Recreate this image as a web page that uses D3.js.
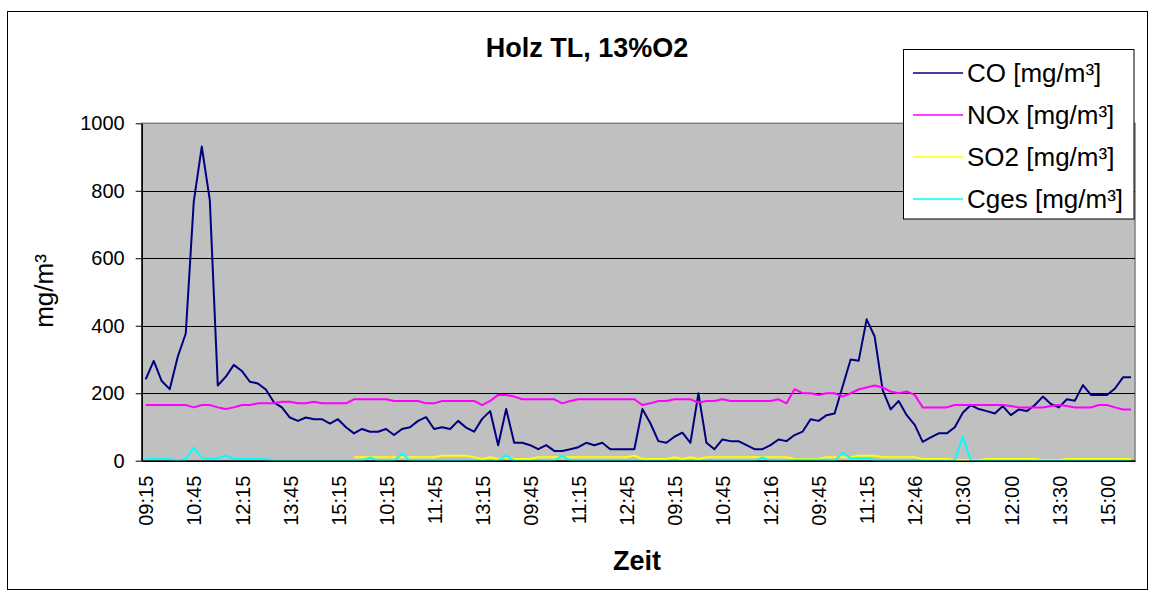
<!DOCTYPE html>
<html>
<head>
<meta charset="utf-8">
<script src="https://cdn.jsdelivr.net/npm/d3@7"></script>
<style>
  body { margin: 0; background: #fff; }
  svg { display: block; font-family: "Liberation Sans", Arial, sans-serif; }
</style>
</head>
<body>
<svg id="chart" width="1155" height="597"></svg>
<script>
// -------------------------------------------------------------------------- //
//                              DATA                                          //
// -------------------------------------------------------------------------- //

// measured values, one per sample (124 samples)
var CO = [241, 296, 236, 212, 308, 377, 768, 931, 773, 223,
          249, 284, 266, 234, 229, 211, 173, 158, 128, 118,
          128, 123, 123, 110, 123,  99,  81,  94,  86,  86,
           94,  76,  94,  99, 118, 129,  94,  99,  94, 118,
           98,  86, 124, 147,  46, 153,  53,  53,  46,  34,
           46,  29,  29,  34,  40,  53,  46,  53,  34,  34,
           34,  34, 153, 111,  58,  53,  71,  83,  53, 200,
           53,  34,  63,  58,  58,  46,  34,  34,  46,  63,
           58,  76,  86, 123, 118, 135, 140, 220, 300, 296,
          419, 368, 209, 152, 177, 135, 106,  56,  69,  81,
           81,  99, 142, 165, 153, 147, 140, 162, 135, 152,
          147, 165, 190, 168, 158, 182, 178, 224, 195, 195,
          195, 214, 247, 247];

var NOx = [165, 165, 165, 165, 165, 165, 158, 165, 165, 158,
           153, 158, 165, 165, 170, 170, 170, 175, 175, 170,
           170, 175, 170, 170, 170, 170, 182, 182, 182, 182,
           182, 177, 177, 177, 177, 170, 170, 177, 177, 177,
           177, 177, 165, 177, 195, 195, 190, 182, 182, 182,
           182, 182, 170, 177, 182, 182, 182, 182, 182, 182,
           182, 182, 165, 170, 177, 177, 182, 182, 182, 172,
           177, 177, 182, 177, 177, 177, 177, 177, 177, 182,
           170, 212, 200, 200, 195, 200, 200, 190, 200, 211,
           217, 223, 217, 205, 200, 205, 195, 158, 158, 158,
           158, 165, 165, 165, 165, 165, 165, 165, 162, 158,
           158, 158, 158, 162, 165, 162, 158, 158, 158, 165,
           165, 158, 152, 152];

var SO2 = [null, null, null, null, null, null, null, null, null, null,
           null, null, null, null, null, null, null, null, null, null,
           null, null, null, null, null, null,   10,   10,   10,   10,
             10,   10,   10,   10,   10,   10,   10,   15,   15,   15,
             15,   10,    5,   10,    5,   10,    5,    5,    5,   10,
             10,   10,   10,   10,   10,   10,   10,   10,   10,   10,
             10,   15,    5,    5,    5,    5,   10,    5,   10,    5,
             10,   10,   10,   10,   10,   10,   10,   10,   10,   10,
             10,    5,    5,    5,    5,   10,   10,   10,   10,   15,
             15,   15,   10,   10,   10,   10,   10,    5,    5,    5,
              5,    2,    2,    2,    2,    5,    5,    5,    5,    5,
              5,    5,    2,    2,    2,    5,    5,    5,    5,    5,
              5,    5,    5,    5];

var Cges = [ 5,  5,  5,  5,  0,  5, 39,  8,  5,  8,
            15,  5,  5,  5,  5,  5,  0,  0,  0,  0,
             0,  0,  0,  0,  0,  0,  0,  0, 10,  0,
             0,  0, 22,  0,  0,  0,  0,  0,  0,  0,
             0,  0,  0,  0,  0, 15,  0,  0,  0,  0,
             0,  0, 15,  0,  0,  0,  0,  0,  0,  0,
             0,  0,  0,  0,  0,  0,  0,  0,  0,  0,
             0,  0,  0,  0,  0,  0,  0, 10,  0,  0,
             0,  3,  3,  3,  3,  3,  0, 24,  7,  7,
             7,  2,  0,  0,  0,  0,  0,  0,  0,  0,
             0,  0, 71,  0,  0,  0,  0,  0,  0,  0,
             0,  0,  0,  0,  0,  0,  0,  0,  0,  0,
             0,  0,  0,  0];

// every 6th sample carries a time label
var tickEvery  = 6;
var tickLabels = ["09:15", "10:45", "12:15", "13:45", "15:15", "10:15", "11:45",
                  "13:15", "09:45", "11:15", "12:45", "09:15", "10:45", "12:16",
                  "09:45", "11:15", "12:46", "10:30", "12:00", "13:30", "15:00"];

var yTicks = [0, 200, 400, 600, 800, 1000];

var seriesNames  = ["CO [mg/m³]", "NOx [mg/m³]", "SO2 [mg/m³]", "Cges [mg/m³]"];
var seriesColors = ["#000080", "#ff00ff", "#ffff00", "#00ffff"];
var seriesData   = [CO, NOx, SO2, Cges];

// -------------------------------------------------------------------------- //
//                              CHART                                         //
// -------------------------------------------------------------------------- //

var svg = d3.select("#chart");

var plot = { left: 141.7, right: 1135, top: 123.3, bottom: 460.7 };

var categories = d3.range(CO.length);

// set the ranges
var x = d3.scalePoint()
    .domain(categories)
    .range([plot.left, plot.right])
    .padding(0.5);

var y = d3.scaleLinear()
    .domain([0, 1000])
    .range([plot.bottom, plot.top]);

// outer chart frame
svg.append("rect")
    .attr("x", 7.5)
    .attr("y", 11.5)
    .attr("width", 1140)
    .attr("height", 578)
    .attr("fill", "#fff")
    .attr("stroke", "#000")
    .attr("stroke-width", 1);

// plot area
svg.append("rect")
    .attr("x", plot.left)
    .attr("y", plot.top)
    .attr("width", plot.right - plot.left)
    .attr("height", plot.bottom - plot.top)
    .attr("fill", "#c0c0c0")
    .attr("stroke", "#808080")
    .attr("stroke-width", 1.5);

// horizontal gridlines
svg.append("g")
    .selectAll("line")
    .data(yTicks.filter(function(d) { return d > 0 && d < 1000; }))
    .enter().append("line")
    .attr("x1", plot.left)
    .attr("x2", plot.right)
    .attr("y1", function(d) { return Math.round(y(d)) + 0.5; })
    .attr("y2", function(d) { return Math.round(y(d)) + 0.5; })
    .attr("stroke", "#000")
    .attr("stroke-width", 1);

// Y axis
var yAxis = svg.append("g")
    .attr("transform", "translate(" + plot.left + ",0)")
    .call(d3.axisLeft(y)
        .tickValues(yTicks)
        .tickFormat(d3.format("d"))
        .tickSize(6)
        .tickSizeOuter(0)
        .tickPadding(11));

yAxis.select(".domain").attr("stroke", "#000").attr("stroke-width", 1.5);
yAxis.selectAll(".tick line").attr("stroke", "#000");
yAxis.selectAll("text")
    .attr("font-size", "20px")
    .attr("font-family", "Liberation Sans, Arial, sans-serif")
    .attr("fill", "#000");

// define the lines
var line = d3.line()
    .defined(function(d) { return d != null; })
    .x(function(d, i) { return x(i); })
    .y(function(d) { return y(d); });

seriesData.forEach(function(s, k) {
  svg.append("path")
    .datum(s)
    .attr("fill", "none")
    .attr("stroke", seriesColors[k])
    .attr("stroke-width", 2)
    .attr("stroke-linejoin", "round")
    .attr("d", line);
});

// X axis
var xAxis = svg.append("g")
    .attr("transform", "translate(0," + plot.bottom + ")")
    .call(d3.axisBottom(x)
        .tickValues(categories.filter(function(d) { return d % tickEvery === 0; }))
        .tickFormat(function(d) { return tickLabels[d / tickEvery]; })
        .tickSize(0)
        .tickSizeOuter(0));

xAxis.select(".domain").attr("stroke", "#000").attr("stroke-width", 1.5);
xAxis.selectAll("text")
    .attr("font-size", "20px")
    .attr("font-family", "Liberation Sans, Arial, sans-serif")
    .attr("fill", "#000")
    .attr("text-anchor", "end")
    .attr("transform", "rotate(-90)")
    .attr("x", -15)
    .attr("y", 0)
    .attr("dy", "0.36em");

// titles
svg.append("text")
    .attr("x", 587)
    .attr("y", 57)
    .attr("text-anchor", "middle")
    .attr("font-size", "27px")
    .attr("font-weight", "bold")
    .text("Holz TL, 13%O2");

svg.append("text")
    .attr("x", 637)
    .attr("y", 570)
    .attr("text-anchor", "middle")
    .attr("font-size", "27px")
    .attr("font-weight", "bold")
    .text("Zeit");

svg.append("text")
    .attr("transform", "translate(53,291) rotate(-90)")
    .attr("text-anchor", "middle")
    .attr("font-size", "26px")
    .text("mg/m³");

// legend
var legend = svg.append("g");

legend.append("rect")
    .attr("x", 903.5)
    .attr("y", 49.5)
    .attr("width", 230.5)
    .attr("height", 169.5)
    .attr("fill", "#fff")
    .attr("stroke", "#000")
    .attr("stroke-width", 1);

var item = legend.selectAll(".item")
    .data(seriesNames)
    .enter().append("g")
    .attr("class", "item")
    .attr("transform", function(d, i) { return "translate(0," + (73 + i * 42) + ")"; });

item.append("line")
    .attr("x1", 913)
    .attr("x2", 963)
    .attr("stroke", function(d, i) { return seriesColors[i]; })
    .attr("stroke-width", 1.5);

item.append("text")
    .attr("x", 967)
    .attr("y", 9)
    .attr("font-size", "26px")
    .text(function(d) { return d; });
</script>
</body>
</html>
